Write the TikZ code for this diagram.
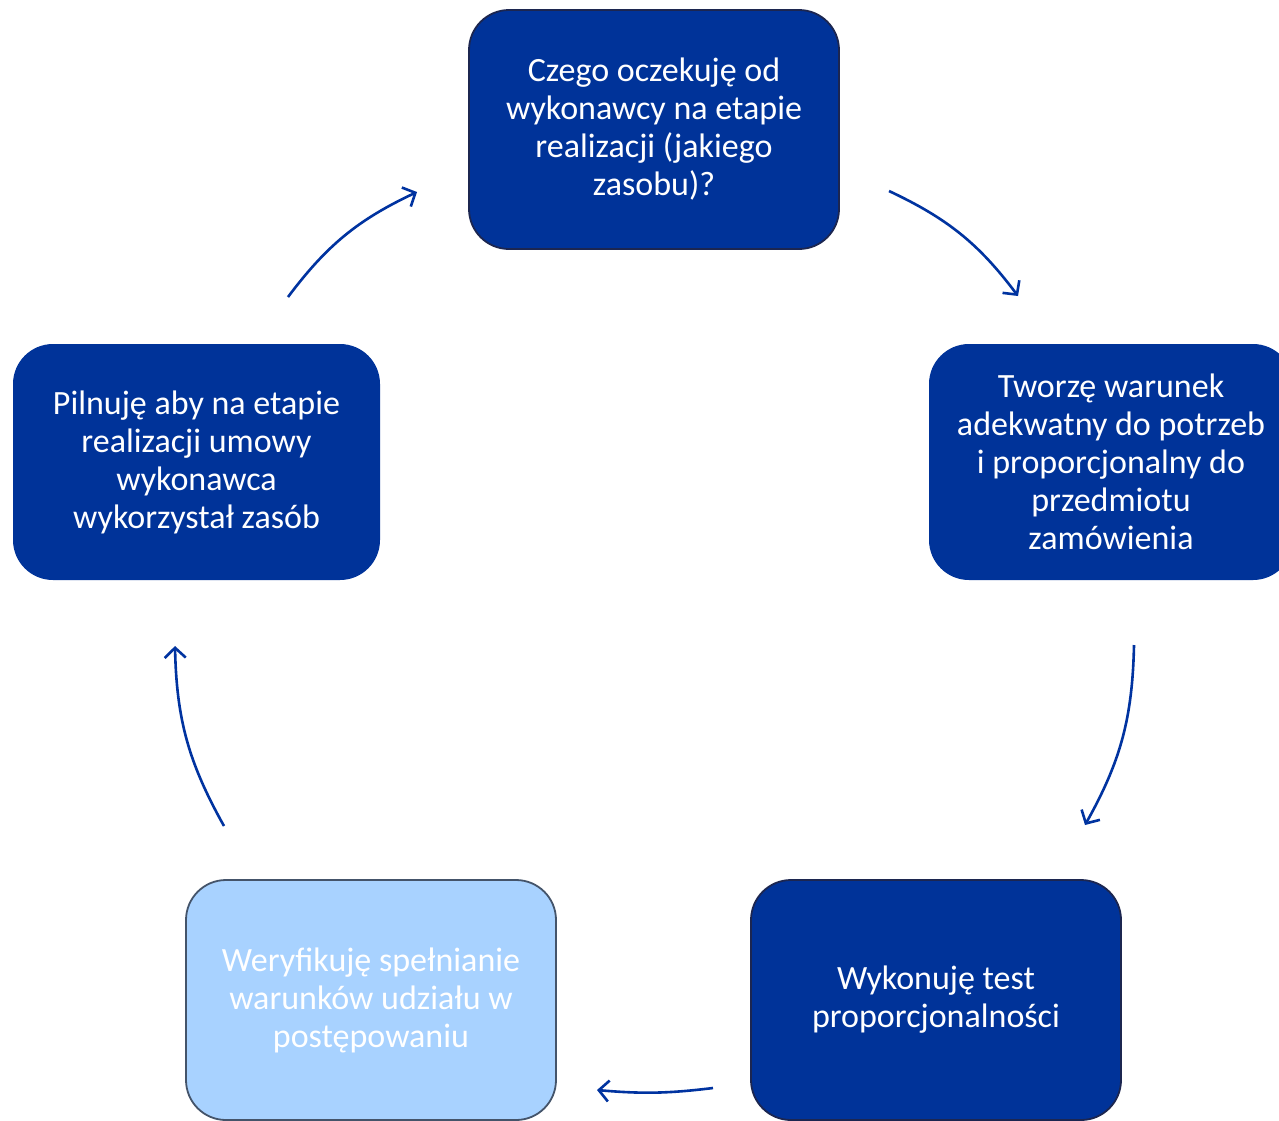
\documentclass[tikz,border=0pt]{standalone}
\usepackage{fontspec}
\setmainfont{Carlito}
\usetikzlibrary{arrows.meta}
\definecolor{boxblue}{RGB}{0,51,153}
\definecolor{boxedge}{RGB}{28,38,80}
\definecolor{lightbox}{RGB}{168,210,255}
\definecolor{lightedge}{RGB}{68,84,106}
\definecolor{arrowblue}{RGB}{0,51,160}
\tikzset{
  stepbox/.style={rectangle, rounded corners=40pt, fill=boxblue, text=white, align=center,
    font=\fontsize{34}{38}\selectfont, inner sep=0pt, minimum width=370pt, minimum height=239pt},
  edged/.style={draw=boxedge, line width=1.8pt},
  lightstep/.style={stepbox, fill=lightbox, draw=lightedge, line width=1.8pt},
  cyc/.style={draw=arrowblue, line width=2.6pt, -{Straight Barb[length=10pt,width=21pt,line width=2.6pt]}}
}
\begin{document}
\begin{tikzpicture}[x=1pt,y=-1pt]
\clip (0,0) rectangle (1279,1120);
\fill[white] (0,0) rectangle (1279,1120);
\node[stepbox, edged] (top) at (654,129.5) {Czego oczekuję od\\wykonawcy na etapie\\realizacji (jakiego\\zasobu)?};
\node[stepbox, minimum width=364pt, minimum height=236pt] (right) at (1111,462) {Tworzę warunek\\adekwatny do potrzeb\\i proporcjonalny do\\przedmiotu\\zamówienia};
\node[stepbox, edged, minimum height=240pt] (br) at (936,1000) {Wykonuję test\\proporcjonalności};
\node[lightstep, minimum height=240pt] (bl) at (371,1000) {Weryfikuję spełnianie\\warunków udziału w\\postępowaniu};
\node[stepbox, minimum width=367pt, minimum height=236pt] (left) at (196.5,462) {Pilnuję aby na etapie\\realizacji umowy\\wykonawca\\wykorzystał zasób};
\coordinate (a1s) at (889,191);
\coordinate (a1e) at (1018,296);
\coordinate (a2s) at (1134,645);
\coordinate (a2e) at (1085,825);
\coordinate (a3s) at (713,1088);
\coordinate (a3e) at (597,1090);
\coordinate (a4s) at (224,826);
\coordinate (a4e) at (175,646);
\coordinate (a5s) at (288,297);
\coordinate (a5e) at (417,192);
\draw[cyc] (a1s) to[bend left=14] (a1e);
\draw[cyc] (a2s) to[bend left=14] (a2e);
\draw[cyc] (a3s) to[bend left=6] (a3e);
\draw[cyc] (a4s) to[bend left=14] (a4e);
\draw[cyc] (a5s) to[bend left=14] (a5e);
\end{tikzpicture}
\end{document}
